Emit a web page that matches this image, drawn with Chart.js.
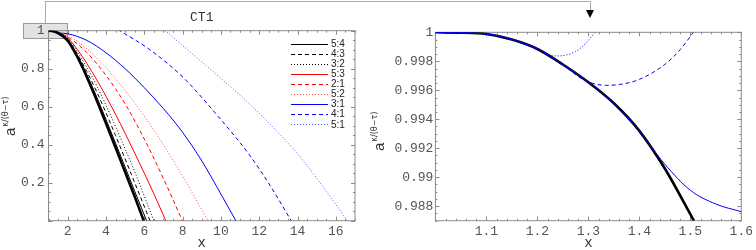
<!DOCTYPE html>
<html lang="en">
<head>
<meta charset="UTF-8">
<title>CT1</title>
<style>
    body { margin: 0; background: #fff; }
    #wrap { position: relative; width: 756px; height: 250px; overflow: hidden; }
    canvas { position: absolute; top: 0; }
    #left { left: 0; }
    #right { left: 366px; }
    .box { position: absolute; left: 23px; top: 23px; width: 45px; height: 16px; background: #e2e2e2; border: 1px solid #999; box-sizing: border-box; }
    .ln { position: absolute; background: #aaa; }
    .arrow { position: absolute; left: 586px; top: 10px; width: 0; height: 0;
             border-left: 4px solid transparent; border-right: 4px solid transparent; border-top: 8px solid #000; }
</style>
</head>
<body>
<div id="wrap">
    <div class="box"></div>
    <div class="ln" style="left:45px; top:1px; width:1px; height:22px;"></div>
    <div class="ln" style="left:45px; top:1px; width:545px; height:1px;"></div>
    <div class="ln" style="left:590px; top:1px; width:1px; height:10px;"></div>
    <div class="arrow"></div>
    <canvas id="left" width="372" height="250"></canvas>
    <canvas id="right" width="390" height="250"></canvas>
</div>

<script src="https://cdn.jsdelivr.net/npm/chart.js"></script>
<script>
// ---- left panel data (x, y pairs per curve) ----
const envX = [1, 1.25, 1.5, 2, 2.5, 3, 3.5, 4, 4.5, 5, 5.5, 5.97];
const envY = [1, 0.9978, 0.987, 0.948, 0.863, 0.757, 0.638, 0.513, 0.385, 0.256, 0.127, 0];

const r54X = [1, 1.25, 1.5, 2, 2.5, 3, 3.5, 4, 4.5, 5, 5.5, 6.12];
const r54Y = [1, 0.998, 0.988, 0.952, 0.87, 0.768, 0.655, 0.533, 0.408, 0.282, 0.155, 0];
const r43X = [1, 1.5, 2, 2.5, 3, 3.5, 4, 4.5, 5, 5.5, 6.3];
const r43Y = [1, 0.988, 0.955, 0.878, 0.785, 0.682, 0.568, 0.448, 0.325, 0.2, 0];
const r32X = [1, 1.5, 2, 2.5, 3, 3.5, 4, 4.5, 5, 5.5, 6, 6.5];
const r32Y = [1, 0.99, 0.96, 0.89, 0.808, 0.714, 0.608, 0.495, 0.378, 0.258, 0.13, 0];

const r53X = [1, 1.5, 2, 2.5, 3, 3.5, 4, 4.5, 5, 5.5, 6, 6.5, 7.12];
const r53Y = [1, 0.99, 0.962, 0.902, 0.828, 0.745, 0.655, 0.56, 0.46, 0.356, 0.25, 0.142, 0];
const r21X = [1, 1.5, 2, 3, 4, 5, 6, 7, 7.99];
const r21Y = [1, 0.99, 0.967, 0.885, 0.765, 0.615, 0.43, 0.222, 0];
const r52X = [1, 2, 3, 4, 5, 6, 7, 8, 9.33];
const r52Y = [1, 0.975, 0.905, 0.805, 0.685, 0.55, 0.4, 0.235, 0];

const r31X = [1, 1.2, 1.4, 1.5, 1.6, 2, 3, 4, 5, 6, 7, 8, 9, 10, 10.78];
const r31Y = [1, 0.9989, 0.9932, 0.9891, 0.9876, 0.984, 0.949, 0.884, 0.8, 0.7, 0.59, 0.465, 0.315, 0.14, 0];
const r41X = [4, 4.72, 6.29, 8.02, 9.76, 11.5, 12.6, 13.67];
const r41Y = [1.045, 1, 0.9, 0.755, 0.56, 0.345, 0.18, 0];
const r51X = [6, 7.1, 8.02, 9.76, 11.5, 12.45, 14.1, 15.83, 16.6];
const r51Y = [1.095, 1, 0.92, 0.77, 0.614, 0.52, 0.34, 0.11, 0];

// ---- right panel (zoom) data ----
const zEnvX = [1, 1.05, 1.1, 1.15, 1.2, 1.25, 1.3, 1.35, 1.4, 1.45, 1.5, 1.507];
const zEnvY = [1, 0.99998, 0.99988, 0.9995, 0.99885, 0.99778, 0.99655, 0.9951, 0.9932, 0.9906, 0.98745, 0.987];
const z31X = [1, 1.1, 1.2, 1.25, 1.3, 1.35, 1.4, 1.42, 1.45, 1.5, 1.55, 1.6];
const z31Y = [1, 0.99988, 0.99885, 0.99778, 0.99655, 0.9951, 0.9932, 0.99225, 0.9909, 0.9891, 0.98815, 0.98762];
const z41X = [1, 1.1, 1.2, 1.25, 1.28, 1.3, 1.335, 1.37, 1.4, 1.45, 1.48, 1.506];
const z41Y = [1, 0.99988, 0.99885, 0.99778, 0.99695, 0.99658, 0.99634, 0.99645, 0.99675, 0.99778, 0.9988, 1];
const z51X = [1, 1.1, 1.2, 1.22, 1.236, 1.255, 1.275, 1.295, 1.313];
const z51Y = [1, 0.99988, 0.99885, 0.99848, 0.99837, 0.99842, 0.99868, 0.99924, 1];

// ticks and legend labels
const xTicksL = [2, 4, 6, 8, 10, 12, 14, 16];
const yTicksL = [0.2, 0.4, 0.6, 0.8, 1];
const xTicksR = [1.1, 1.2, 1.3, 1.4, 1.5, 1.6];
const yTicksR = [0.988, 0.99, 0.992, 0.994, 0.996, 0.998, 1];
const ratios = ['5:4', '4:3', '3:2', '5:3', '2:1', '5:2', '3:1', '4:1', '5:1'];

const mono = '"Liberation Mono", "DejaVu Sans Mono", monospace';
const sans = '"Liberation Sans", Arial, sans-serif';

function pts(xs, ys) {
    return xs.map((x, i) => ({ x: x, y: ys[i] }));
}

function line(label, xs, ys, color, dash, width) {
    return {
        label: label,
        data: pts(xs, ys),
        borderColor: color,
        borderDash: dash,
        borderWidth: width,
        pointRadius: 0,
        fill: false,
        cubicInterpolationMode: 'monotone'
    };
}

const DASH = [4, 3];
const DOT = [1, 2];

// frame, ticks, legend and text drawn with the chart's own scales
const decor = {
    id: 'decor',
    beforeDatasetsDraw(chart, args, o) {
        const { ctx, chartArea: a, scales: { x, y } } = chart;
        ctx.save();
        ctx.strokeStyle = '#8a8a8a';
        ctx.lineWidth = 1;
        ctx.strokeRect(a.left, a.top, a.right - a.left, a.bottom - a.top);

        ctx.beginPath();
        const each = (min, max, step, fn) => {
            for (let i = Math.ceil(min / step - 1e-6); i * step <= max + step * 1e-6; i++) fn(i * step);
        };
        const xm = (v, len) => {
            const p = Math.round(x.getPixelForValue(v)) + 0.5;
            ctx.moveTo(p, a.bottom); ctx.lineTo(p, a.bottom - len);
            ctx.moveTo(p, a.top); ctx.lineTo(p, a.top + len);
        };
        const ym = (v, len) => {
            const p = Math.round(y.getPixelForValue(v)) + 0.5;
            ctx.moveTo(a.left, p); ctx.lineTo(a.left + len, p);
            ctx.moveTo(a.right, p); ctx.lineTo(a.right - len, p);
        };
        each(x.min, x.max, o.xMinor, v => xm(v, 2));
        each(x.min, x.max, o.xMajor, v => xm(v, 4));
        each(y.min, y.max, o.yMinor, v => ym(v, 2));
        each(y.min, y.max, o.yMajor, v => ym(v, 4));
        ctx.stroke();
        ctx.restore();
    },
    afterDatasetsDraw(chart, args, o) {
        const { ctx, chartArea: a } = chart;
        ctx.save();

        if (o.title) {
            ctx.font = '13px ' + mono;
            ctx.fillStyle = '#333';
            ctx.textAlign = 'center';
            ctx.textBaseline = 'middle';
            ctx.fillText(o.title, (a.left + a.right) / 2, 17.5);
        }

        if (o.legend) {
            const lg = o.legend;
            ctx.font = '10px ' + sans;
            ctx.textAlign = 'left';
            ctx.textBaseline = 'middle';
            let k = 0;
            chart.data.datasets.forEach(ds => {
                if (!ds.label) return;
                const yy = lg.top + k * lg.step;
                k++;
                ctx.strokeStyle = ds.borderColor;
                ctx.lineWidth = 1;
                ctx.setLineDash(ds.borderDash || []);
                ctx.beginPath();
                ctx.moveTo(lg.x0, Math.round(yy) + 0.5);
                ctx.lineTo(lg.x1, Math.round(yy) + 0.5);
                ctx.stroke();
                ctx.setLineDash([]);
                ctx.fillStyle = '#222';
                ctx.fillText(ds.label, lg.x1 + 3, yy + 0.5);
            });
        }

        // y title: a^{κ/(θ−τ)}, rotated
        const t = o.yTitle;
        ctx.translate(t.x, t.y);
        ctx.rotate(-Math.PI / 2);
        ctx.fillStyle = '#333';
        ctx.textAlign = 'left';
        ctx.textBaseline = 'alphabetic';
        ctx.font = '15px ' + sans;
        ctx.fillText('a', 0, 0);
        const w = ctx.measureText('a').width;
        ctx.font = '8px "DejaVu Sans", sans-serif';
        ctx.fillText('\u03ba/(\u03b8\u2212\u03c4)', w + 1, -7);
        ctx.restore();
    }
};

function tickCfg(pad) {
    return {
        padding: pad,
        font: { family: mono, size: 13 },
        color: '#555',
        maxRotation: 0,
        autoSkip: false,
        callback: v => String(v)
    };
}

function axis(min, max, ticks, fit, pad, title) {
    const s = {
        type: 'linear', min: min, max: max,
        grid: { display: false, drawTicks: false },
        border: { display: false },
        afterBuildTicks: sc => { sc.ticks = ticks.map(v => ({ value: v })); },
        ticks: tickCfg(pad)
    };
    if (title) {
        s.afterFit = sc => { sc.height = fit; };
        s.title = { display: true, text: title, color: '#333', font: { family: mono, size: 14, lineHeight: 1 }, padding: 0 };
    } else {
        s.afterFit = sc => { sc.width = fit; };
    }
    return s;
}

// ---- left chart ----
new Chart(document.getElementById('left'), {
    type: 'line',
    data: {
        datasets: [
            line('', envX, envY, '#000', [], 2.6),
            line(ratios[0], r54X, r54Y, '#000', [], 1),
            line(ratios[1], r43X, r43Y, '#000', DASH, 1),
            line(ratios[2], r32X, r32Y, '#000', DOT, 1),
            line(ratios[3], r53X, r53Y, '#ff0000', [], 1),
            line(ratios[4], r21X, r21Y, '#ff0000', DASH, 1),
            line(ratios[5], r52X, r52Y, '#ff4d4d', DOT, 1),
            line(ratios[6], r31X, r31Y, '#0000ff', [], 1),
            line(ratios[7], r41X, r41Y, '#0000ff', DASH, 1),
            line(ratios[8], r51X, r51Y, '#4d5cff', DOT, 1)
        ]
    },
    options: {
        responsive: false,
        animation: false,
        layout: { padding: { top: 30.7, right: 17, left: 0, bottom: 0 } },
        plugins: {
            legend: { display: false },
            tooltip: { enabled: false },
            decor: {
                title: 'CT1',
                xMajor: 2, xMinor: 0.5, yMajor: 0.2, yMinor: 0.05,
                legend: { x0: 291, x1: 328, top: 43.5, step: 10.1 },
                yTitle: { x: 15, y: 136 }
            }
        },
        scales: {
            x: axis(1, 17, xTicksL, 29.3, 3, 'x'),
            y: axis(0, 1, yTicksL, 48.5, 4)
        }
    },
    plugins: [decor]
});

// ---- right chart (zoom of top-left corner) ----
new Chart(document.getElementById('right'), {
    type: 'line',
    data: {
        datasets: [
            line('', z51X, z51Y, '#0000ff', DOT, 1),
            line('', z41X, z41Y, '#0000ff', DASH, 1),
            line('', z31X, z31Y, '#0000ff', [], 1),
            line('', zEnvX, zEnvY, '#000', [], 2.6)
        ]
    },
    options: {
        responsive: false,
        animation: false,
        layout: { padding: { top: 32.3, right: 12.7, left: 0, bottom: 0 } },
        plugins: {
            legend: { display: false },
            tooltip: { enabled: false },
            decor: {
                xMajor: 0.1, xMinor: 0.02, yMajor: 0.002, yMinor: 0.0005,
                yTitle: { x: 18, y: 151 }
            }
        },
        scales: {
            x: axis(1, 1.6, xTicksR, 29.3, 3, 'x'),
            y: axis(0.987, 1, yTicksR, 69.4, 2)
        }
    },
    plugins: [decor]
});
</script>
</body>
</html>
